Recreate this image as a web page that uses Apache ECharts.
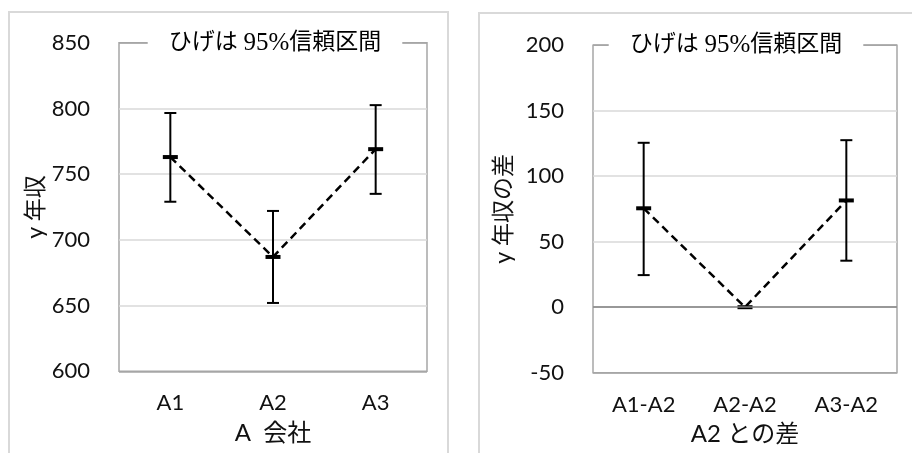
<!DOCTYPE html>
<html>
<head>
<meta charset="utf-8">
<script src="https://cdn.jsdelivr.net/npm/echarts@6/dist/echarts.min.js"></script>
<style>
  html, body { margin: 0; padding: 0; background: #fff; }
  #chart { width: 912px; height: 453px; }
</style>
</head>
<body>
<div id="chart"></div>
<script>
// Annual income (y) by company A, with 95% confidence intervals
const companies = ['A1', 'A2', 'A3'];
const incomeMean = [763, 687, 769];
const incomeLow = [729, 652, 735];
const incomeHigh = [796.5, 722, 802.5];

// Difference from A2, with 95% confidence intervals
const diffLabels = ['A1-A2', 'A2-A2', 'A3-A2'];
const diffMean = [75.5, 0, 81.5];
const diffLow = [24.5, 0, 35.5];
const diffHigh = [125.5, 0, 127.5];

const leftTicks = { min: 600, max: 850, interval: 50 };
const rightTicks = { min: -50, max: 200, interval: 50 };

const titleRich = '{j|ひげは }{n|95%}{j|信頼区間}';

const sansFont = "Lato, 'Noto Sans CJK JP', sans-serif";
const serifFont = "'Liberation Serif', 'Noto Sans CJK JP', serif";
const borderGray = '#a6a6a6';
const gridGray = '#d9d9d9';
const textColor = '#111';

function whiskerRows(mean, low, high) {
  return mean.map((m, i) => [i, m, low[i], high[i]]);
}

// Whisker with caps plus a short thick bar at the mean
function renderWhisker(params, api) {
  const x = api.value(0);
  const mean = api.value(1), lo = api.value(2), hi = api.value(3);
  const pm = api.coord([x, mean]);
  const pl = api.coord([x, lo]);
  const ph = api.coord([x, hi]);
  const capHalf = 6;
  const stroke = { stroke: '#000', lineWidth: 2 };
  const children = [];
  if (hi !== lo) {
    children.push({ type: 'line', shape: { x1: pl[0], y1: pl[1], x2: ph[0], y2: ph[1] }, style: stroke });
    children.push({ type: 'line', shape: { x1: ph[0] - capHalf, y1: ph[1], x2: ph[0] + capHalf, y2: ph[1] }, style: stroke });
    children.push({ type: 'line', shape: { x1: pl[0] - capHalf, y1: pl[1], x2: pl[0] + capHalf, y2: pl[1] }, style: stroke });
  }
  children.push({ type: 'rect', shape: { x: pm[0] - 7.5, y: pm[1] - 2, width: 15, height: 4 }, style: { fill: '#000' } });
  return { type: 'group', children: children };
}

function yAxisFor(gridIndex, ticks, name, nameGap, lineColors) {
  return {
    type: 'value', gridIndex: gridIndex,
    min: ticks.min, max: ticks.max, interval: ticks.interval,
    name: name, nameLocation: 'middle', nameGap: nameGap,
    nameTextStyle: { fontFamily: sansFont, fontSize: 23, color: textColor },
    axisLine: { show: false }, axisTick: { show: false },
    axisLabel: { fontFamily: sansFont, fontSize: 22, color: textColor, margin: 29 },
    splitLine: { show: true, lineStyle: { color: lineColors, width: 1.5 } }
  };
}

function xAxisFor(gridIndex, cats, name) {
  return {
    type: 'category', gridIndex: gridIndex, data: cats, boundaryGap: true,
    name: name, nameLocation: 'middle', nameGap: 50,
    nameTextStyle: { fontFamily: sansFont, fontSize: 24, color: textColor },
    axisLine: { show: false, onZero: false }, axisTick: { show: false },
    axisLabel: { fontFamily: sansFont, fontSize: 22, color: textColor, margin: 21 }
  };
}

// Title box that sits over the top border of each plot
function titleBox(cx, cy) {
  return {
    type: 'text', z: 10, x: cx, y: cy,
    style: {
      text: titleRich, align: 'center', verticalAlign: 'middle',
      backgroundColor: '#fff', padding: [2, 21],
      rich: {
        j: { fontFamily: serifFont, fontSize: 23, color: '#000' },
        n: { fontFamily: serifFont, fontSize: 25, color: '#000' }
      }
    }
  };
}

const chart = echarts.init(document.getElementById('chart'), null, { renderer: 'canvas' });

chart.setOption({
  backgroundColor: '#fff',
  animation: false,
  graphic: [
    { type: 'rect', shape: { x: 9, y: 12, width: 439, height: 480 }, style: { fill: 'none', stroke: gridGray, lineWidth: 2 }, z: -1 },
    { type: 'rect', shape: { x: 479, y: 13, width: 480, height: 480 }, style: { fill: 'none', stroke: gridGray, lineWidth: 2 }, z: -1 },
    titleBox(275, 43),
    titleBox(736, 45)
  ],
  grid: [
    { left: 119, top: 42.7, width: 308, height: 328.6, show: true, borderColor: borderGray, borderWidth: 1.5, backgroundColor: 'transparent' },
    { left: 593, top: 45.2, width: 304, height: 327.5, show: true, borderColor: borderGray, borderWidth: 1.5, backgroundColor: 'transparent' }
  ],
  xAxis: [
    xAxisFor(0, companies, 'A  会社'),
    xAxisFor(1, diffLabels, 'A2 との差')
  ],
  yAxis: [
    yAxisFor(0, leftTicks, 'y 年収', 72, [borderGray, gridGray, gridGray, gridGray, gridGray, borderGray]),
    yAxisFor(1, rightTicks, 'y 年収の差', 78, [borderGray, gridGray, gridGray, gridGray, gridGray, borderGray])
  ],
  series: [
    {
      type: 'line', xAxisIndex: 0, yAxisIndex: 0, data: incomeMean,
      symbol: 'none', lineStyle: { color: '#000', width: 2.5, type: [8, 5] }, z: 2
    },
    {
      type: 'custom', xAxisIndex: 0, yAxisIndex: 0,
      data: whiskerRows(incomeMean, incomeLow, incomeHigh),
      renderItem: renderWhisker, encode: { x: 0, y: [1, 2, 3] }, z: 3
    },
    {
      type: 'line', xAxisIndex: 1, yAxisIndex: 1, data: diffMean,
      symbol: 'none', lineStyle: { color: '#000', width: 2.5, type: [8, 5] }, z: 2,
      markLine: {
        silent: true, symbol: 'none', label: { show: false },
        lineStyle: { color: '#7f7f7f', width: 1.5, type: 'solid' },
        data: [{ yAxis: 0 }]
      }
    },
    {
      type: 'custom', xAxisIndex: 1, yAxisIndex: 1,
      data: whiskerRows(diffMean, diffLow, diffHigh),
      renderItem: renderWhisker, encode: { x: 0, y: [1, 2, 3] }, z: 3
    }
  ]
});
</script>
</body>
</html>
